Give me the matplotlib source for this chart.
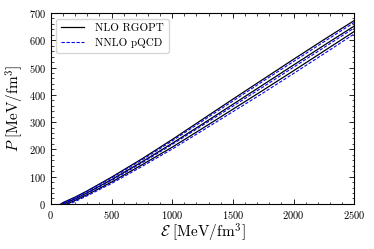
import numpy as np
import matplotlib
matplotlib.use("Agg")
import matplotlib.pyplot as plt
from matplotlib.ticker import MultipleLocator

plt.rcParams['font.family'] = 'serif'
plt.rcParams['font.serif'] = ['cmr10']
plt.rcParams['mathtext.fontset'] = 'cm'
plt.rcParams['axes.formatter.use_mathtext'] = True

# energy density grid (MeV/fm^3)
eps = [0, 100, 200, 300, 500, 750, 1000, 1250, 1500, 1750, 2000, 2250, 2500]

# NLO RGOPT pressure curves (MeV/fm^3)
rgopt_hi = [-25, 5, 25, 48, 98, 165, 236, 310, 384, 457, 530, 602, 672]
rgopt_mid = [-32, 0, 19, 41, 89, 154, 222, 293, 365, 437, 509, 581, 652]
rgopt_lo = [-40, -6, 13, 34, 80, 143, 208, 277, 347, 417, 488, 560, 632]

# NNLO pQCD pressure curves
pqcd_hi = [-28, 3, 23, 46, 95, 161, 231, 304, 377, 450, 522, 594, 665]
pqcd_mid = [-35, -2, 17, 39, 86, 150, 218, 288, 358, 429, 501, 573, 645]
pqcd_lo = [-45, -10, 9, 30, 75, 137, 201, 269, 338, 407, 478, 550, 623]

fig = plt.figure(figsize=(3.74, 2.49), dpi=100)
ax = fig.add_axes([0.136, 0.181, 0.811, 0.767])

for i, p in enumerate([rgopt_hi, rgopt_mid, rgopt_lo]):
    ax.plot(eps, p, color='black', lw=0.9, label='NLO RGOPT' if i == 0 else None)
for i, p in enumerate([pqcd_hi, pqcd_mid, pqcd_lo]):
    ax.plot(eps, p, color='blue', lw=0.8, ls='--', dashes=(3, 1.5),
            label='NNLO pQCD' if i == 0 else None)

ax.set_xlim(0, 2500)
ax.set_ylim(0, 700)
ax.xaxis.set_major_locator(MultipleLocator(500))
ax.xaxis.set_minor_locator(MultipleLocator(100))
ax.yaxis.set_major_locator(MultipleLocator(100))
ax.yaxis.set_minor_locator(MultipleLocator(20))
ax.tick_params(which='both', direction='in', top=True, right=True, labelsize=7.5)
ax.tick_params(which='major', length=3.5, width=0.6)
ax.tick_params(which='minor', length=1.8, width=0.5)
for s in ax.spines.values():
    s.set_linewidth(0.8)

ax.set_xlabel(r'$\mathcal{E}\ [\mathrm{MeV/fm}^3]$', fontsize=11, labelpad=1)
ax.set_ylabel(r'$P\ [\mathrm{MeV/fm}^3]$', fontsize=11, labelpad=2)

ax.legend(loc='upper left', fontsize=8, frameon=True, handlelength=2.0,
          handletextpad=1.0, borderpad=0.45, labelspacing=0.45,
          fancybox=True, framealpha=0.8)

fig.savefig('out.png', dpi=100)
